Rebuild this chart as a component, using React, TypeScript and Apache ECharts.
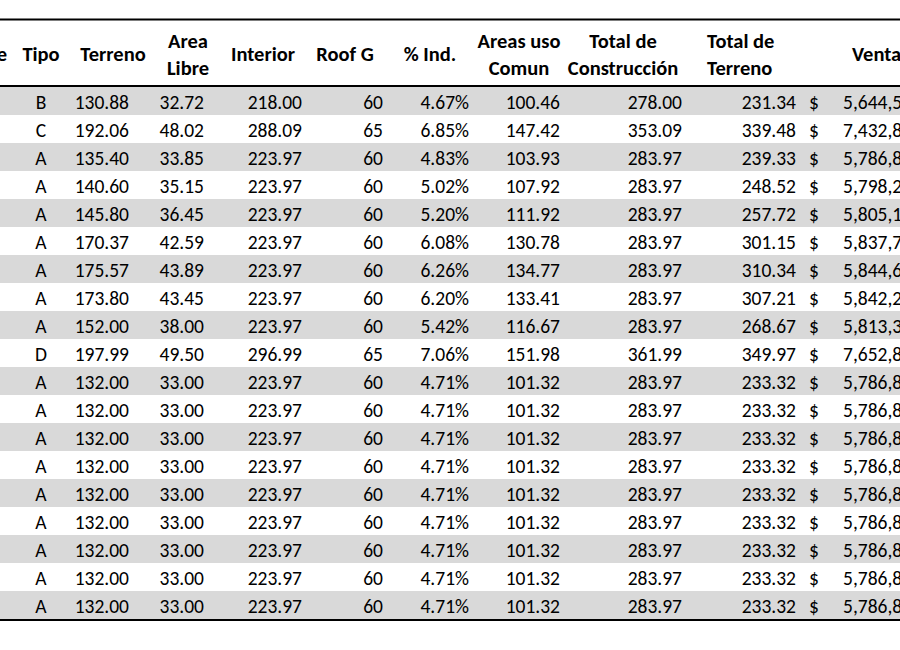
import React, { useEffect, useRef } from "react";
import * as echarts from "echarts";

const tipo = ["B", "C", "A", "A", "A", "A", "A", "A", "A", "D", "A", "A", "A", "A", "A", "A", "A", "A", "A"];
const terreno = [130.88, 192.06, 135.4, 140.6, 145.8, 170.37, 175.57, 173.8, 152.0, 197.99, 132, 132, 132, 132, 132, 132, 132, 132, 132];
const areaLibre = [32.72, 48.02, 33.85, 35.15, 36.45, 42.59, 43.89, 43.45, 38.0, 49.5, 33, 33, 33, 33, 33, 33, 33, 33, 33];
const interior = [218.0, 288.09, 223.97, 223.97, 223.97, 223.97, 223.97, 223.97, 223.97, 296.99, 223.97, 223.97, 223.97, 223.97, 223.97, 223.97, 223.97, 223.97, 223.97];
const roofG = [60, 65, 60, 60, 60, 60, 60, 60, 60, 65, 60, 60, 60, 60, 60, 60, 60, 60, 60];
const pctInd = [4.67, 6.85, 4.83, 5.02, 5.2, 6.08, 6.26, 6.2, 5.42, 7.06, 4.71, 4.71, 4.71, 4.71, 4.71, 4.71, 4.71, 4.71, 4.71];
const areasUsoComun = [100.46, 147.42, 103.93, 107.92, 111.92, 130.78, 134.77, 133.41, 116.67, 151.98, 101.32, 101.32, 101.32, 101.32, 101.32, 101.32, 101.32, 101.32, 101.32];
const totalConstruccion = [278.0, 353.09, 283.97, 283.97, 283.97, 283.97, 283.97, 283.97, 283.97, 361.99, 283.97, 283.97, 283.97, 283.97, 283.97, 283.97, 283.97, 283.97, 283.97];
const totalTerreno = [231.34, 339.48, 239.33, 248.52, 257.72, 301.15, 310.34, 307.21, 268.67, 349.97, 233.32, 233.32, 233.32, 233.32, 233.32, 233.32, 233.32, 233.32, 233.32];
const ventaVisible = ["5,644,5", "7,432,8", "5,786,8", "5,798,2", "5,805,1", "5,837,7", "5,844,6", "5,842,2", "5,813,3", "7,652,8", "5,786,8", "5,786,8", "5,786,8", "5,786,8", "5,786,8", "5,786,8", "5,786,8", "5,786,8", "5,786,8"];

const headers = [
  { lines: ["e"], x: 7, align: "right" },
  { lines: ["Tipo"], x: 41, align: "center" },
  { lines: ["Terreno"], x: 113, align: "center" },
  { lines: ["Area", "Libre"], x: 188, align: "center" },
  { lines: ["Interior"], x: 263, align: "center" },
  { lines: ["Roof G"], x: 345, align: "center" },
  { lines: ["% Ind."], x: 430, align: "center" },
  { lines: ["Areas uso", "Comun"], x: 519, align: "center" },
  { lines: ["Total de", "Construcción"], x: 623, align: "center" },
  { lines: ["Total de", "Terreno"], x: 707, align: "left" },
  { lines: ["Venta"], x: 852, align: "left" },
];

const FONT = "Carlito, Lato, 'Noto Sans', sans-serif";
const TEXT = "#000000";

const fmt2 = (v: number) => v.toFixed(2);

export default function App() {
  const ref = useRef<HTMLDivElement>(null);
  useEffect(() => {
    if (!ref.current) return;
    const chart = echarts.init(ref.current, undefined, { renderer: "svg" });
    const rows = tipo.map((_, i) => String(i + 1));
    const columns: { get: (i: number) => string; x: number; align: string }[] = [
      { get: (i) => tipo[i], x: 41, align: "center" },
      { get: (i) => fmt2(terreno[i]), x: 129, align: "right" },
      { get: (i) => fmt2(areaLibre[i]), x: 204, align: "right" },
      { get: (i) => fmt2(interior[i]), x: 302, align: "right" },
      { get: (i) => String(roofG[i]), x: 383, align: "right" },
      { get: (i) => fmt2(pctInd[i]) + "%", x: 469, align: "right" },
      { get: (i) => fmt2(areasUsoComun[i]), x: 560, align: "right" },
      { get: (i) => fmt2(totalConstruccion[i]), x: 682, align: "right" },
      { get: (i) => fmt2(totalTerreno[i]), x: 796, align: "right" },
      { get: () => "$", x: 809, align: "left" },
      { get: (i) => ventaVisible[i], x: 843, align: "left" },
    ];

    const headerGraphics: any[] = [];
    headers.forEach((h) => {
      const ys = h.lines.length === 1 ? [54] : [41, 68];
      h.lines.forEach((t, k) => {
        headerGraphics.push({
          type: "text",
          x: h.x,
          y: ys[k],
          style: {
            text: t,
            fill: TEXT,
            font: `bold 20.5px ${FONT}`,
            align: h.align,
            verticalAlign: "middle",
          },
        });
      });
    });

    const lines = [19.5, 86, 620].map((y) => ({
      type: "line",
      shape: { x1: 0, y1: y, x2: 900, y2: y },
      style: { stroke: "#000", lineWidth: 2 },
      z: 10,
    }));

    chart.setOption({
      animation: false,
      grid: { left: 0, right: 0, top: 87, height: 532 },
      xAxis: { type: "value", min: 0, max: 900, show: false },
      yAxis: { type: "category", data: rows, inverse: true, show: false },
      graphic: [...headerGraphics, ...lines],
      series: [
        {
          type: "custom",
          data: rows.map((_, i) => [0, i]),
          renderItem: (params: any, api: any) => {
            const i = api.value(1);
            const c = api.coord([0, i]);
            const bandH = api.size([0, 1])[1];
            const yc = c[1];
            const children: any[] = [];
            if (i % 2 === 0) {
              children.push({
                type: "rect",
                shape: { x: 0, y: yc - bandH / 2, width: 900, height: bandH },
                style: { fill: "#d9d9d9" },
              });
            }
            columns.forEach((col) => {
              const px = api.coord([col.x, i])[0];
              children.push({
                type: "text",
                x: px,
                y: yc + 1,
                style: {
                  text: col.get(i),
                  fill: TEXT,
                  font: `19.5px ${FONT}`,
                  align: col.align,
                  verticalAlign: "middle",
                },
              });
            });
            return { type: "group", children };
          },
        },
      ],
    });
    return () => chart.dispose();
  }, []);
  return <div ref={ref} style={{ position: "absolute", left: 0, top: 0, width: 900, height: 650 }} />;
}
